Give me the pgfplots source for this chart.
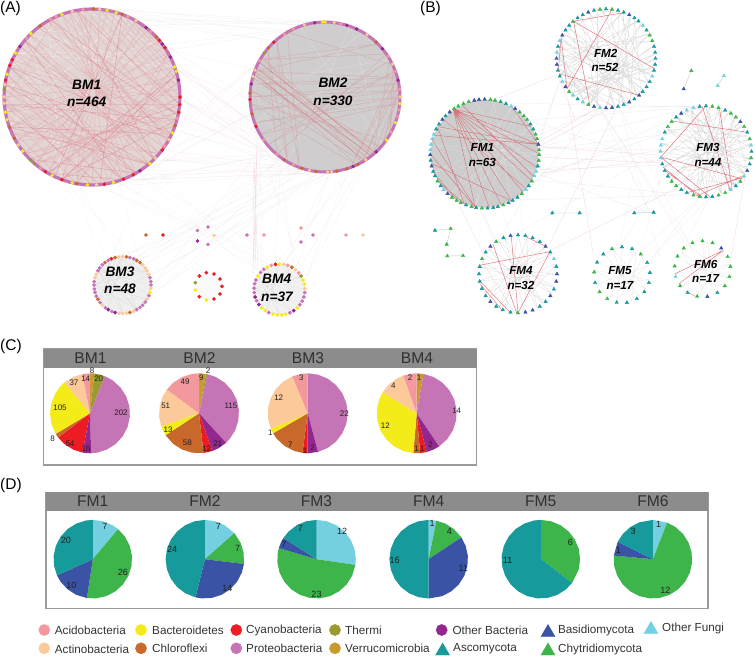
\documentclass[border=0pt]{standalone}
\usepackage{fontspec}
\setmainfont{Liberation Sans}
\usepackage{pgfplots}
\pgfplotsset{compat=1.18}
\definecolor{cP}{HTML}{C574B5}\definecolor{cQ}{HTML}{92278F}\definecolor{cC}{HTML}{ED1C24}
\definecolor{cF}{HTML}{C8682A}\definecolor{cY}{HTML}{F4EC19}\definecolor{cA}{HTML}{FCC99A}
\definecolor{cD}{HTML}{F3999E}\definecolor{cT}{HTML}{9A9A32}\definecolor{cV}{HTML}{C89B2C}
\definecolor{fA}{HTML}{169A9C}\definecolor{fB}{HTML}{3A53A4}\definecolor{fC}{HTML}{3EB54A}\definecolor{fO}{HTML}{74CFE0}
\definecolor{eR}{HTML}{D9505A}\definecolor{eG}{HTML}{C4C4C4}\definecolor{hd}{HTML}{8C8C8C}\definecolor{fr}{HTML}{9A9A9A}
\definecolor{dA}{HTML}{E4D5D5}\definecolor{dB}{HTML}{CFCDCD}\definecolor{dC}{HTML}{EFEFEF}\definecolor{dD}{HTML}{F1F1F1}\definecolor{dE}{HTML}{FAFAFA}\definecolor{dF}{HTML}{CDCDCD}
\pgfplotsset{nodecl/.style={scatter,only marks,scatter src=explicit symbolic,forget plot,
 scatter/classes={p={mark=*,cP},q={mark=*,cQ},c={mark=*,cC},f={mark=*,cF},y={mark=*,cY},a={mark=*,cA},d={mark=*,cD},t={mark=*,cT},v={mark=*,cV},
 A={mark=triangle*,fA},B={mark=triangle*,fB},C={mark=triangle*,fC},O={mark=triangle*,fO}}}}
% ring of nodes: centre x,y, radius, mark size, rows "angle class"
\newcommand\ring[5]{\addplot[nodecl,mark size=#4] table[row sep=\\,x expr={#1+#3*cos(\thisrow{g})},y expr={#2-#3*sin(\thisrow{g})},meta=k]{g k\\#5\\};}
% free nodes: rows "x y class"
\newcommand\pts[2]{\addplot[nodecl,mark size=#1] table[row sep=\\,x=x,y=y,meta=k]{x y k\\#2\\};}
% chords: centre x,y, radius, style, list of ring angles (999 breaks the line)
\newcommand\edges[5]{\addplot[#4,unbounded coords=jump,restrict y to domain=-50:800,forget plot] table[row sep=\\,x expr={#1+#3*cos(\thisrow{g})},y expr={#2-#3*sin(\thisrow{g})+(\thisrow{g}>900)*5000}]{g\\#5\\};}
% filled module disc and ring band, as polygons
\newcommand\disc[4]{\addplot[fill=#4,draw=none,forget plot] table[row sep=\\,x expr={#1+#3*cos(\thisrow{g})},y expr={#2-#3*sin(\thisrow{g})}]{g\\0\\10\\20\\30\\40\\50\\60\\70\\80\\90\\100\\110\\120\\130\\140\\150\\160\\170\\180\\190\\200\\210\\220\\230\\240\\250\\260\\270\\280\\290\\300\\310\\320\\330\\340\\350\\} -- cycle;}
\newcommand\band[4]{\addplot[draw=cP,line width=#4,fill=none,forget plot] table[row sep=\\,x expr={#1+#3*cos(\thisrow{g})},y expr={#2-#3*sin(\thisrow{g})}]{g\\0\\5\\10\\15\\20\\25\\30\\35\\40\\45\\50\\55\\60\\65\\70\\75\\80\\85\\90\\95\\100\\105\\110\\115\\120\\125\\130\\135\\140\\145\\150\\155\\160\\165\\170\\175\\180\\185\\190\\195\\200\\205\\210\\215\\220\\225\\230\\235\\240\\245\\250\\255\\260\\265\\270\\275\\280\\285\\290\\295\\300\\305\\310\\315\\320\\325\\330\\335\\340\\345\\350\\355\\} -- cycle;}
% pie slice: centre x,y, radius, colour, boundary angles clockwise from the top
\newcommand\sli[5]{\addplot[fill=#4,draw=none,forget plot] table[row sep=\\,x expr={#1+#3*sin(\thisrow{g})},y expr={#2-#3*cos(\thisrow{g})}]{g\\#5\\} -- (axis cs:#1,#2) -- cycle;}
\newcommand\T[4][center]{\node[anchor=#1,inner sep=0pt] at (axis cs:#2,#3) {#4};}
\newcommand\MN[4][13.7]{\T{#2}{#3}{\fontsize{#1}{#1}\selectfont\bfseries\itshape #4}}
\newcommand\HD[3]{\T{#1}{#2}{\fontsize{15.6}{15.6}\selectfont\color[HTML]{303030}#3}}
\newcommand\PL[3]{\T{#1}{#2}{\fontsize{8}{8}\selectfont\color[HTML]{222222}#3}}
\newcommand\PM[3]{\T{#1}{#2}{\fontsize{9}{9}\selectfont\color[HTML]{222222}#3}}
\newcommand\LG[3]{\T[west]{#1}{#2}{\fontsize{11.7}{11.7}\selectfont\color[HTML]{333333}#3}}
\begin{document}
\begin{tikzpicture}
\begin{axis}[scale only axis,width=755pt,height=658pt,xmin=0,xmax=755,ymin=0,ymax=658,y dir=reverse,hide axis,clip=false]
\addplot[draw=none,forget plot] coordinates {(0,0) (755,658)};
%% faint links between modules, panel A
\addplot[color=eG,opacity=.22,line width=.35pt,forget plot] coordinates {(100,8)(300,25)(130,17)(270,40)(150,25)(340,22)(165,45)(250,100)(178,70)(325,172)(182,100)(280,160)(175,130)(300,170)(160,160)(350,160)(130,180)(320,173)(100,187)(270,155)(120,185)(375,45)(110,10)(320,22)(140,20)(290,30)(170,50)(255,70)};
\addplot[color=eG,opacity=.2,line width=.35pt,forget plot] coordinates {(260,150)(153,285)(290,165)(140,260)(330,172)(150,275)(350,165)(125,255)(300,170)(152,295)(320,172)(145,265)(280,160)(135,258)(380,135)(305,280)(350,165)(285,263)(330,172)(295,270)(280,170)(275,265)(370,150)(300,268)(255,130)(255,270)(260,150)(262,270)};
\addplot[color=eG,opacity=.15,line width=.35pt,forget plot] coordinates {(50,170)(100,270)(80,187)(120,255)(120,185)(140,265)(60,175)(110,262)(150,165)(258,270)(120,183)(270,265)(100,187)(290,265)(140,175)(262,280)};
\addplot[color=eR,opacity=.09,line width=.35pt,forget plot] coordinates {(180,85)(260,150)(178,115)(300,170)(165,150)(250,115)(150,170)(330,172)(130,180)(260,60)(175,130)(253,130)(181,100)(270,155)(160,160)(280,165)(178,70)(255,125)(172,60)(300,170)(145,175)(255,80)};
\addplot[color=eR,opacity=.16,line width=.4pt,forget plot] coordinates {(255,170)(255,265)(257,140)(253,280)(254,160)(258,270)};
%% panel B links
\addplot[color=eG,opacity=.3,line width=.35pt,forget plot] coordinates {(510,103)(693,107)(540,147)(662,150)(540,170)(664,165)(530,120)(700,107)(536,180)(690,195)(520,200)(600,108)(540,135)(560,80)(537,150)(660,135)(540,175)(650,213)(600,108)(700,106)};
\addplot[color=eR,opacity=.22,line width=.35pt,unbounded coords=jump,forget plot] coordinates {(537,143)(597,108)(0,nan)(538,147)(610,108)(0,nan)(480,105)(557,75)(0,nan)(568,100)(593,253)(0,nan)(617,107)(550,243)(0,nan)(483,213)(497,243)(0,nan)(460,207)(483,253)(0,nan)(551,250)(677,188)(0,nan)(540,147)(660,155)(0,nan)(540,173)(663,160)(0,nan)(538,157)(660,163)(0,nan)(745,177)(730,263)(0,nan)(560,80)(575,120)};
\addplot[color=eG,opacity=.25,line width=.35pt,forget plot] coordinates {(500,208)(530,280)(520,205)(495,245)(480,210)(480,255)(635,165)(620,247)(660,180)(640,252)(700,197)(650,260)(710,197)(685,243)(600,108)(690,245)(620,108)(660,258)};
%% BM modules: discs
\disc{92}{97}{88}{dA}
\disc{325}{97}{75}{dB}
\disc{122.5}{285}{28}{dC}
\disc{279.5}{289.5}{25}{dD}
\disc{208.5}{286.5}{13}{dE}
\edges{92}{97}{88}{color=white,opacity=.35,line width=.5pt}{120\\250\\135\\20\\150\\30\\95\\200\\70\\160\\105\\60\\175\\40\\130\\10}
\edges{92}{97}{88}{color=eR,opacity=.24,line width=.4pt}{125\\-40\\140\\-30\\110\\-60\\150\\-20\\100\\-70\\160\\-10\\95\\-80\\170\\0\\85\\-90\\180\\10\\75\\-100\\190\\20\\65\\-110\\200\\30\\55\\-120\\210\\40\\45\\-130\\220\\50\\35\\-140\\230\\60\\25\\-150\\240\\70\\15\\-160\\250\\80\\5\\-170\\260\\90\\-5\\-175\\115\\-50\\135\\-25\\120\\-45\\145\\-35\\105\\-65\\155\\-15\\205\\-40\\195\\-50\\185\\-60\\175\\-70\\165\\-80\\30\\-100\\20\\-110\\10\\-120\\0\\-130\\-10\\-140\\-20\\-150}
\edges{92}{97}{88}{color=eR,opacity=.35,line width=.5pt}{128\\-12\\118\\-28\\172\\-50\\200\\-25\\160\\-60\\225\\-5\\100\\-45\\140\\-70\\240\\15\\250\\-15\\185\\-85\\70\\-115}
\edges{325}{97}{75}{color=white,opacity=.3,line width=.4pt}{110\\-40\\70\\-120\\170\\30\\200\\60}
\edges{325}{97}{75}{color=eR,opacity=.22,line width=.5pt}{155\\-55\\165\\-50\\148\\-60\\175\\-42\\160\\15\\170\\10\\180\\5\\190\\0\\200\\-5\\210\\20\\220\\30\\-50\\5\\-40\\10\\-60\\15\\-70\\20\\-30\\25\\120\\-110\\130\\-120\\140\\-130\\35\\150\\45\\160\\-65\\185\\-35}
\edges{325}{97}{75}{color=eR,opacity=.38,line width=.8pt}{157\\-52\\999\\152\\-48\\999\\162\\-58}
\edges{122.5}{285}{28}{color=eG,opacity=.4,line width=.3pt}{0\\150\\30\\180\\60\\210\\90\\240\\120\\270\\150\\300\\180\\330\\210\\20\\100\\-60\\140\\-20}
\edges{279.5}{289.5}{25}{color=eG,opacity=.35,line width=.3pt}{0\\150\\30\\180\\60\\210\\90\\240\\120\\270\\150\\300\\180\\330}
%% BM rings
\band{92}{97}{88}{3.2pt}
\band{325}{97}{75}{3pt}
\ring{92}{97}{88}{1.6}{0 c\\-5 c\\-10 c\\11 q\\17 y\\20 y\\27 q\\34 c\\37 q\\40 c\\43 f\\48 d\\52 q\\60 a\\66 d\\70 f\\74 y\\80 y\\85 a\\89 f\\96 d\\103 a\\110 y\\114 d\\118 d\\126 f\\134 y\\138 d\\145 q\\150 y\\155 c\\159 c\\165 y\\169 c\\172 a\\175 t\\180 a\\184 a\\190 y\\195 y\\200 f\\208 f\\213 a\\218 y\\226 t\\229 t\\234 d\\238 c\\243 y\\250 c\\257 y\\260 f\\267 y\\273 a\\278 c\\284 y\\291 c\\298 c\\303 q\\311 y\\316 a\\323 c\\326 d\\331 a\\336 y\\341 f\\346 d}
\ring{325}{97}{75}{1.5}{92 y\\90 y\\83 a\\78 d\\73 q\\65 q\\56 a\\47 f\\40 q\\33 d\\26 a\\20 d\\13 q\\6 d\\0 a\\-5 y\\-10 d\\-15 d\\-20 y\\-28 d\\-35 y\\-47 q\\-57 a\\-64 f\\-68 q\\-73 f\\-81 f\\-85 a\\-88 a\\-97 f\\-102 a\\-108 f\\-115 d\\-123 f\\-130 d\\-145 d\\-157 c\\-167 f\\-178 c\\177 f\\170 q\\164 a\\159 a\\151 d\\144 t\\139 f\\133 c\\123 d\\115 d\\106 a\\98 q}
\ring{122.5}{285}{28.5}{1.7}{90 a\\82 f\\75 p\\67 p\\60 f\\52 f\\45 a\\37 a\\30 a\\22 a\\15 p\\7 p\\0 p\\-7 a\\-15 y\\-22 p\\-30 a\\-37 p\\-45 p\\-52 p\\-60 p\\-67 a\\-75 f\\-82 a\\-90 a\\-97 a\\-105 q\\-112 p\\-120 q\\-127 p\\-135 a\\-142 p\\-150 f\\-157 p\\-165 p\\-172 p\\-180 p\\-187 p\\-195 a\\-202 a\\-210 p\\-217 p\\-225 p\\-232 f\\-240 p\\-247 c\\-255 f\\-262 a}
\ring{279.5}{289.5}{25.5}{1.7}{90 y\\80 a\\71 d\\61 f\\51 a\\41 d\\32 t\\22 y\\12 y\\2 a\\-7 p\\-17 p\\-27 p\\-37 p\\-46 y\\-56 q\\-66 p\\-76 y\\-85 y\\-95 y\\-105 y\\-115 p\\-124 y\\-134 y\\-144 q\\-154 p\\-163 q\\-173 p\\-183 p\\-193 p\\-202 p\\-212 y\\-222 p\\-232 p\\-241 y\\-251 d\\-261 c}
\pts{1.7}{206.3 272.7 c\\214 274 c\\220 279 c\\222 286.3 c\\220 294 c\\214 299 c\\206.3 300 y\\199.3 296.7 c\\195.3 290 y\\195.3 282.7 t\\199.3 276 c\\146 235 f\\163 235 c\\197.5 230.5 p\\208 227 p\\214 235.5 a\\197.5 241 q\\208 244.5 p\\247 235 p\\264 235 d\\301 228 d\\313 235 p\\301 242 p\\346 235 d\\363 235 a}
%% FM modules
\disc{484.7}{153.8}{54}{dF}
\edges{484.7}{153.8}{53}{color=white,opacity=.4,line width=.3pt}{100\\-40\\140\\-20\\170\\0\\200\\30\\230\\60\\260\\80\\-60\\120\\-10\\150\\20\\-120\\50\\-90}
\edges{606}{58.5}{49.5}{color=eG,opacity=.6,line width=.35pt}{170\\20\\160\\-20\\150\\-40\\140\\-60\\180\\30\\190\\50\\200\\70\\210\\-10\\225\\0\\240\\30\\250\\60\\100\\-100\\120\\-80\\110\\-50\\95\\-30\\75\\-75\\60\\-90\\45\\-110\\30\\-120\\15\\-130\\5\\-145\\-15\\175\\-30\\165\\-50\\155\\-65\\145\\85\\-70\\70\\-60\\55\\-45\\130\\-130\\165\\-115\\175\\-95\\190\\-80\\205\\-65}
\edges{706}{151.5}{45.5}{color=eG,opacity=.6,line width=.35pt}{170\\20\\150\\-10\\130\\-30\\110\\-50\\90\\-70\\70\\-90\\50\\-110\\30\\-130\\10\\-150\\-10\\170\\-30\\150\\-50\\130\\-70\\110\\-90\\85\\-120\\60\\-140\\40\\-160\\15\\180\\-20\\200\\35\\215\\-45\\100\\-100\\75\\-60\\55\\-25\\120\\5\\190\\65\\160}
\edges{518}{274}{39}{color=eG,opacity=.55,line width=.35pt}{150\\-30\\120\\-60\\90\\-110\\60\\-140\\30\\-170\\0\\170\\-20\\140\\-50\\110\\-80\\75\\-120\\45\\-150\\15\\-95\\160\\-45}
\edges{622}{275}{28}{color=eG,opacity=.45,line width=.3pt}{150\\-30\\110\\-70\\60\\-120\\20\\-160\\-10\\170\\-50\\130\\90\\-100\\40}
\edges{702.5}{269}{28}{color=eG,opacity=.4,line width=.3pt}{160\\-20\\120\\-60\\80\\-100\\40\\-140\\10\\-170\\-40\\140\\-80\\90}
\edges{484.7}{153.8}{54.5}{color=eR,opacity=.7,line width=.4pt}{125\\10\\999\\125\\0\\999\\125\\-15\\999\\125\\-30\\999\\125\\-45\\999\\125\\-60\\999\\125\\-72\\999\\125\\-85\\999\\125\\-100\\999\\125\\30\\999\\10\\150\\999\\10\\160\\999\\10\\60\\999\\180\\-100\\999\\200\\-120\\999\\210\\-110\\999\\165\\-100\\999\\150\\-112\\999\\190\\-60\\999\\140\\-40\\999\\115\\-25}
\edges{606}{58.5}{49.5}{color=eR,opacity=.75,line width=.5pt}{131\\-12\\999\\131\\68\\999\\83\\218\\999\\155\\218\\999\\198\\-48\\999\\131\\251\\999\\155\\195}
\edges{706}{151.5}{45.5}{color=eR,opacity=.75,line width=.5pt}{187\\90\\999\\187\\-85\\999\\187\\-37\\999\\200\\260\\999\\95\\-58\\999\\73\\-55\\999\\138\\25\\999\\245\\-35\\999\\258\\-31\\999\\205\\-95}
\edges{518}{274}{39}{color=eR,opacity=.75,line width=.5pt}{167\\35\\999\\130\\-92\\999\\100\\-90\\999\\35\\-90\\999\\190\\258\\999\\195\\245\\999\\82\\45}
\edges{702.5}{269}{28}{color=eR,opacity=.75,line width=.5pt}{190\\42\\999\\212\\42\\999\\233\\255}
\addplot[color=eG,line width=.35pt,unbounded coords=jump,forget plot] coordinates {(691.3,70.7)(683.7,89)(0,nan)(724,75.7)(717.7,85.7)(0,nan)(552.3,213)(579.7,213)(0,nan)(634.3,213)(653.7,212.3)(0,nan)(435,230.3)(450.7,228.7)(446.7,244.3)(0,nan)(447.3,256)(463,255.7)};
%% FM rings
\ring{484.7}{153.8}{54.5}{2}{90 B\\84 C\\79 C\\73 A\\67 A\\61 O\\56 B\\50 C\\44 C\\39 C\\33 A\\27 A\\21 C\\16 C\\10 B\\4 C\\-1 C\\-7 C\\-13 A\\-19 O\\-24 O\\-30 C\\-36 A\\-41 O\\-47 C\\-53 A\\-59 A\\-64 A\\-70 C\\-76 A\\-81 A\\-87 A\\-93 C\\-99 A\\-104 C\\-110 A\\-116 C\\-121 C\\-127 C\\-133 B\\-139 O\\-144 A\\-150 C\\-156 A\\-161 A\\-167 B\\-173 A\\-179 B\\-184 O\\-190 O\\-196 O\\-201 O\\-207 A\\-213 A\\-219 B\\-224 A\\-230 B\\-236 C\\-241 C\\-247 C\\-253 C\\-259 B\\-264 B}
\ring{606}{58.5}{49.5}{2}{90 A\\83 C\\76 A\\69 A\\62 B\\55 A\\49 A\\42 O\\35 A\\28 C\\21 C\\14 A\\7 A\\0 A\\-7 A\\-14 A\\-21 O\\-28 A\\-35 A\\-42 A\\-48 B\\-55 A\\-62 B\\-69 A\\-76 A\\-83 B\\-90 B\\-97 O\\-104 B\\-111 C\\-118 O\\-125 A\\-132 O\\-138 C\\-145 B\\-152 O\\-159 A\\-166 A\\-173 B\\-180 B\\-187 O\\-194 A\\-201 O\\-208 B\\-215 A\\-222 A\\-228 C\\-235 A\\-242 A\\-249 B\\-256 A\\-263 C}
\ring{706}{151.5}{45.5}{2}{90 A\\82 C\\74 C\\65 A\\57 C\\49 C\\41 B\\33 C\\25 A\\16 C\\8 O\\0 A\\-8 C\\-16 A\\-25 B\\-33 O\\-41 C\\-49 A\\-57 O\\-65 C\\-74 C\\-82 A\\-90 A\\-98 C\\-106 C\\-115 A\\-123 A\\-131 C\\-139 C\\-147 A\\-155 A\\-164 A\\-172 O\\-180 O\\-188 O\\-196 O\\-205 A\\-213 C\\-221 C\\-229 A\\-237 B\\-245 O\\-254 O\\-262 A}
\ring{518}{274}{39}{2}{90 A\\79 A\\68 A\\56 A\\45 B\\34 A\\23 O\\11 A\\0 B\\-11 B\\-23 A\\-34 B\\-45 A\\-56 A\\-68 B\\-79 B\\-90 C\\-101 A\\-113 A\\-124 A\\-135 B\\-146 A\\-158 A\\-169 A\\-180 A\\-191 A\\-203 C\\-214 A\\-225 B\\-236 C\\-248 A\\-259 B}
\ring{622}{275}{28}{2}{90 A\\69 A\\48 C\\26 A\\5 A\\-16 A\\-37 A\\-58 A\\-80 A\\-101 A\\-122 C\\-143 C\\-164 A\\-186 C\\-207 A\\-228 A\\-249 C}
\ring{702.5}{269}{28}{2}{90 C\\69 C\\48 B\\26 C\\5 C\\-16 C\\-37 C\\-58 A\\-80 B\\-101 C\\-122 A\\-143 C\\-164 O\\-186 C\\-207 C\\-228 C\\-249 C}
\pts{2}{691.3 70.7 C\\683.7 89 B\\724 75.7 O\\717.7 85.7 O\\552.3 213 A\\579.7 213 A\\634.3 213 A\\653.7 212.3 A\\435 230.3 A\\450.7 228.7 C\\446.7 244.3 C\\447.3 256 C\\463 255.7 C}
%% module names
\MN{86.7}{84.3}{BM1}\MN{86.7}{101.7}{n=464}\MN{333}{83}{BM2}\MN{333}{101}{n=330}
\MN{120}{271.7}{BM3}\MN{120}{289}{n=48}\MN{276.7}{279}{BM4}\MN{277}{296.7}{n=37}
\MN[11.7]{482.3}{147.7}{FM1}\MN[11.7]{482.3}{162.3}{n=63}\MN[11.7]{605.7}{53.3}{FM2}\MN[11.7]{605}{67.7}{n=52}
\MN[11.7]{708}{147}{FM3}\MN[11.7]{708}{162.3}{n=44}\MN[11.7]{521}{270.7}{FM4}\MN[11.7]{521}{285}{n=32}
\MN[11.7]{620}{270.3}{FM5}\MN[11.7]{620}{285}{n=17}\MN[11.7]{705.7}{264.3}{FM6}\MN[11.7]{705.7}{278.7}{n=17}
\T[west]{0}{8}{\fontsize{15.5}{15.5}\selectfont (A)}
\T[west]{420}{8}{\fontsize{15.5}{15.5}\selectfont (B)}
\T[west]{0}{346}{\fontsize{15.5}{15.5}\selectfont (C)}
\T[west]{0}{485}{\fontsize{15.5}{15.5}\selectfont (D)}
%% panel C frame
\addplot[fill=white,draw=fr,line width=1.1pt,forget plot] coordinates {(43.5,349)(476.5,349)(476.5,465)(43.5,465)} -- cycle;
\addplot[fill=hd,draw=none,forget plot] coordinates {(43.5,349)(476.5,349)(476.5,367.7)(43.5,367.7)} -- cycle;
%% panel D frame
\addplot[fill=white,draw=fr,line width=1.1pt,forget plot] coordinates {(46,492.3)(708,492.3)(708,608.3)(46,608.3)} -- cycle;
\addplot[fill=hd,draw=none,forget plot] coordinates {(46,492.3)(708,492.3)(708,510.7)(46,510.7)} -- cycle;
\HD{90.5}{358.5}{BM1}\HD{199.5}{358.5}{BM2}\HD{308}{358.5}{BM3}\HD{417}{358.5}{BM4}
\HD{92.8}{501.5}{FM1}\HD{204.9}{501.5}{FM2}\HD{316.5}{501.5}{FM3}\HD{428.7}{501.5}{FM4}\HD{540.8}{501.5}{FM5}\HD{652.9}{501.5}{FM6}
%% pies: slices of panel C (BM1: 8,20,202,16,54,8,105,37,14 of 464)
\sli{90}{413.3}{40}{cV}{0\\6.2}
\sli{90}{413.3}{40}{cT}{6.2\\14\\21.7}
\sli{90}{413.3}{40}{cP}{21.7\\35\\50\\65\\80\\95\\110\\125\\140\\155\\170\\178.4}
\sli{90}{413.3}{40}{cQ}{178.4\\185\\190.9}
\sli{90}{413.3}{40}{cC}{190.9\\205\\220\\232.8}
\sli{90}{413.3}{40}{cF}{232.8\\239}
\sli{90}{413.3}{40}{cY}{239\\255\\270\\285\\300\\310\\320.4}
\sli{90}{413.3}{40}{cA}{320.4\\335\\349.1}
\sli{90}{413.3}{40}{cD}{349.1\\360}
% BM2: 9,2,115,21,12,58,13,51,49 of 330
\sli{199}{413.3}{40}{cV}{0\\9.8}
\sli{199}{413.3}{40}{cT}{9.8\\12}
\sli{199}{413.3}{40}{cP}{12\\25\\40\\55\\70\\85\\100\\115\\130\\137.5}
\sli{199}{413.3}{40}{cQ}{137.5\\150\\160.4}
\sli{199}{413.3}{40}{cC}{160.4\\173.5}
\sli{199}{413.3}{40}{cF}{173.5\\190\\205\\220\\236.7}
\sli{199}{413.3}{40}{cY}{236.7\\250.9}
\sli{199}{413.3}{40}{cA}{250.9\\265\\280\\295\\306.5}
\sli{199}{413.3}{40}{cD}{306.5\\320\\335\\350\\360}
% BM3: 22,2,1,7,1,12,3 of 48
\sli{307.7}{413.3}{40}{cP}{0\\15\\30\\45\\60\\75\\90\\105\\120\\135\\150\\165}
\sli{307.7}{413.3}{40}{cQ}{165\\180}
\sli{307.7}{413.3}{40}{cC}{180\\187.5}
\sli{307.7}{413.3}{40}{cF}{187.5\\200\\215\\230\\240}
\sli{307.7}{413.3}{40}{cY}{240\\247.5}
\sli{307.7}{413.3}{40}{cA}{247.5\\262\\277\\292\\307\\322\\337.5}
\sli{307.7}{413.3}{40}{cD}{337.5\\350\\360}
% BM4: 1,14,2,1,1,12,4,2 of 37
\sli{416.7}{413.3}{40}{cV}{0\\9.7}
\sli{416.7}{413.3}{40}{cP}{9.7\\25\\40\\55\\70\\85\\100\\115\\130\\146}
\sli{416.7}{413.3}{40}{cQ}{146\\155\\165.4}
\sli{416.7}{413.3}{40}{cC}{165.4\\175.1}
\sli{416.7}{413.3}{40}{cF}{175.1\\184.9}
\sli{416.7}{413.3}{40}{cY}{184.9\\200\\215\\230\\245\\260\\275\\290\\301.6}
\sli{416.7}{413.3}{40}{cA}{301.6\\315\\330\\340.5}
\sli{416.7}{413.3}{40}{cD}{340.5\\350\\360}
% FM1: 7,26,10,20 of 63
\sli{92.8}{559.2}{39.3}{fO}{0\\15\\30\\40}
\sli{92.8}{559.2}{39.3}{fC}{40\\55\\70\\85\\100\\115\\130\\145\\160\\175\\188.6}
\sli{92.8}{559.2}{39.3}{fB}{188.6\\205\\220\\235\\245.7}
\sli{92.8}{559.2}{39.3}{fA}{245.7\\260\\275\\290\\305\\320\\335\\350\\360}
% FM2: 7,7,14,24 of 52
\sli{204.9}{559.2}{39.3}{fO}{0\\15\\30\\48.5}
\sli{204.9}{559.2}{39.3}{fC}{48.5\\65\\80\\96.9}
\sli{204.9}{559.2}{39.3}{fB}{96.9\\110\\125\\140\\155\\170\\185\\193.8}
\sli{204.9}{559.2}{39.3}{fA}{193.8\\210\\225\\240\\255\\270\\285\\300\\315\\330\\345\\360}
% FM3: 12,23,2,7 of 44
\sli{316.5}{559.2}{39.3}{fO}{0\\15\\30\\45\\60\\75\\90\\98.2}
\sli{316.5}{559.2}{39.3}{fC}{98.2\\115\\130\\145\\160\\175\\190\\205\\220\\235\\250\\265\\280\\286.4}
\sli{316.5}{559.2}{39.3}{fB}{286.4\\295\\302.7}
\sli{316.5}{559.2}{39.3}{fA}{302.7\\315\\330\\345\\360}
% FM4: 1,4,11,16 of 32
\sli{428.7}{559.2}{39.3}{fO}{0\\11.25}
\sli{428.7}{559.2}{39.3}{fC}{11.25\\25\\40\\56.25}
\sli{428.7}{559.2}{39.3}{fB}{56.25\\70\\85\\100\\115\\130\\145\\160\\180}
\sli{428.7}{559.2}{39.3}{fA}{180\\195\\210\\225\\240\\255\\270\\285\\300\\315\\330\\345\\360}
% FM5: 6,11 of 17
\sli{540.8}{559.2}{39.3}{fC}{0\\15\\30\\45\\60\\75\\90\\105\\127}
\sli{540.8}{559.2}{39.3}{fA}{127\\140\\155\\170\\185\\200\\215\\230\\245\\260\\275\\290\\305\\320\\335\\350\\360}
% FM6: 1,12,1,3 of 17
\sli{652.9}{559.2}{39.3}{fO}{0\\21.2}
\sli{652.9}{559.2}{39.3}{fC}{21.2\\35\\50\\65\\80\\95\\110\\125\\140\\155\\170\\185\\200\\215\\230\\245\\260\\275.3}
\sli{652.9}{559.2}{39.3}{fB}{275.3\\296.5}
\sli{652.9}{559.2}{39.3}{fA}{296.5\\310\\325\\340\\360}
%% pie numbers
\PL{121}{412.3}{202}\PL{86}{449}{16}\PL{70}{443.3}{54}\PL{52.7}{438.3}{8}\PL{60}{407.7}{105}\PL{74}{382.3}{37}\PL{85.7}{378.3}{14}\PL{92}{371}{8}\PL{98.7}{378.3}{20}
\PL{231}{405.7}{115}\PL{217.7}{443.3}{21}\PL{206.7}{449}{12}\PL{187.3}{442.3}{58}\PL{168}{430}{13}\PL{165.7}{405.7}{51}\PL{185}{381.7}{49}\PL{201.3}{377.3}{9}\PL{208}{371}{2}
\PL{344.3}{413.3}{22}\PL{312.7}{447.7}{2}\PL{305}{450.3}{1}\PL{290.3}{444.3}{7}\PL{270.3}{432.3}{1}\PL{278.7}{397.3}{12}\PL{301.3}{377.7}{3}
\PL{456.7}{410.7}{14}\PL{430.7}{444.3}{2}\PL{422}{449}{1}\PL{416.7}{449}{1}\PL{385.3}{425.7}{12}\PL{393.3}{385.7}{4}\PL{410}{377.3}{2}\PL{419}{377.3}{1}
\PM{104.9}{526}{7}\PM{122.8}{572.3}{26}\PM{71.3}{585.7}{10}\PM{65.9}{540}{20}
\PM{218.3}{526}{7}\PM{237.6}{548.3}{7}\PM{227.3}{588.3}{14}\PM{172.2}{549}{24}
\PM{342.1}{531.7}{12}\PM{316.5}{594}{23}\PM{283.8}{544.3}{7}\PM{300.4}{528.3}{7}
\PM{432.2}{523.3}{1}\PM{449.3}{531.7}{4}\PM{463.2}{568.3}{11}\PM{394.6}{560.7}{16}
\PM{570.4}{542.3}{6}\PM{507.6}{560.7}{11}
\PM{658.7}{524.3}{1}\PM{665.4}{590.7}{12}\PM{618.3}{550.7}{1}\PM{633.1}{531}{3}
%% legend
\pts{5.6}{44.3 630 d\\44.3 648.3 a\\141 630 y\\141 648.3 f\\236.3 630 c\\236.3 648.3 p\\335 630 t\\335 648.3 v\\441.7 630 q}
\pts{8}{442.6 651 A\\548 632.5 B\\548 651 C\\651 629.5 O}
\LG{54.7}{630.5}{Acidobacteria}\LG{54.7}{649}{Actinobacteria}\LG{152}{630.5}{Bacteroidetes}\LG{152}{648.5}{Chloroflexi}
\LG{246}{630.5}{Cyanobacteria}\LG{246}{648.5}{Proteobacteria}\LG{345}{630.5}{Thermi}\LG{345}{648.5}{Verrucomicrobia}
\LG{452.4}{630}{Other Bacteria}\LG{453}{649}{Ascomycota}\LG{557.8}{630.7}{Basidiomycota}\LG{558}{649.7}{Chytridiomycota}\LG{662}{628}{Other Fungi}
\end{axis}
\end{tikzpicture}
\end{document}
